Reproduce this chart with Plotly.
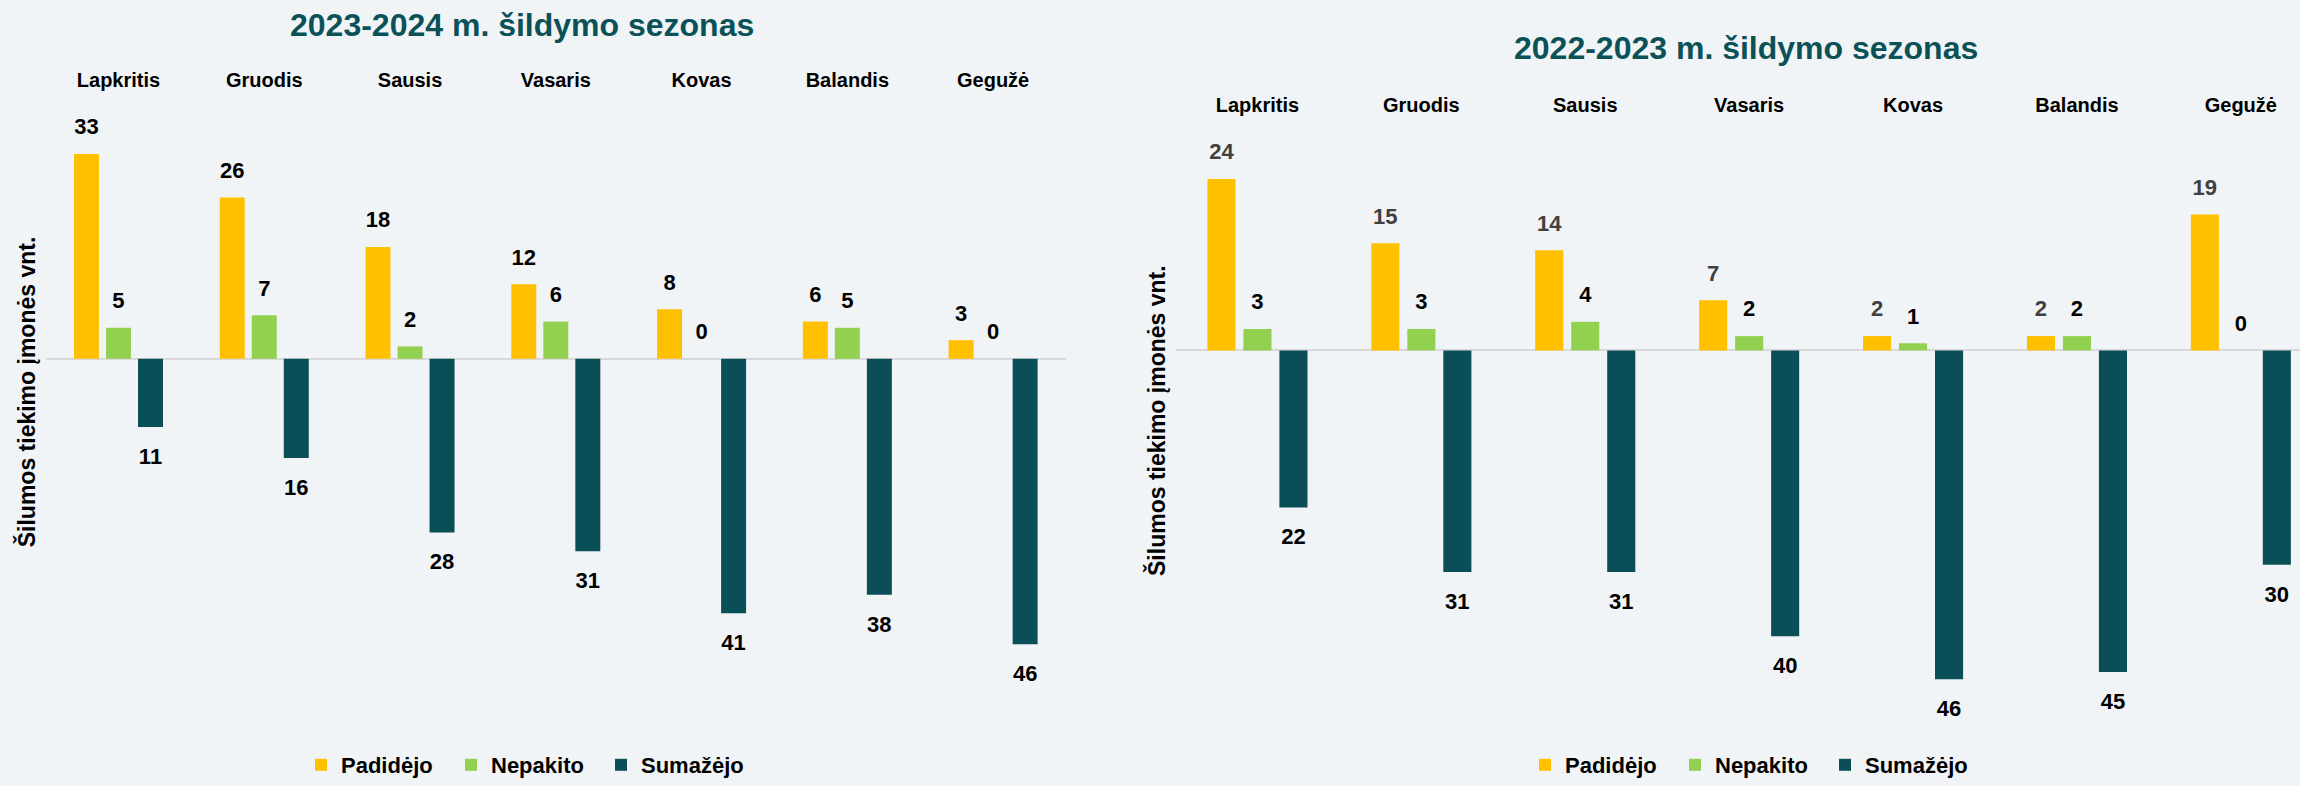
import plotly.graph_objects as go

# ---------------- data ----------------
months = ["Lapkritis", "Gruodis", "Sausis", "Vasaris", "Kovas", "Balandis", "Gegužė"]
series_names = ["Padidėjo", "Nepakito", "Sumažėjo"]

inc_2324 = [33, 26, 18, 12, 8, 6, 3]
same_2324 = [5, 7, 2, 6, 0, 5, 0]
dec_2324 = [11, 16, 28, 31, 41, 38, 46]

inc_2223 = [24, 15, 14, 7, 2, 2, 19]
same_2223 = [3, 3, 4, 2, 1, 2, 0]
dec_2223 = [22, 31, 31, 40, 46, 45, 30]

title_2324 = "2023-2024 m. šildymo sezonas"
title_2223 = "2022-2023 m. šildymo sezonas"
y_title = "Šilumos tiekimo įmonės vnt."

# ---------------- style ----------------
W, H = 2300, 786
BG = "#F0F4F7"
COLORS = ["#FFC000", "#92D050", "#0A4F57"]
TITLE_COLOR = "#0B5158"
FONT = "Liberation Sans"
GAP = 0.341
GROUPGAP = 0.22


def px(x):
    return x / W


def py(y):
    return 1 - y / H


fig = go.Figure()

panels = [
    dict(xa="x", ya="y", leg="legend", data=[inc_2324, same_2324, dec_2324],
         lab_colors=["#000000", "#000000", "#000000"]),
    dict(xa="x2", ya="y2", leg="legend2", data=[inc_2223, same_2223, dec_2223],
         lab_colors=["#404040", "#000000", "#000000"]),
]

groups = ["g_inc", "g_same", "g_dec"]
for p in panels:
    for i, (name, vals) in enumerate(zip(series_names, p["data"])):
        sign = -1 if i == 2 else 1
        yv = [sign * v for v in vals]
        fig.add_trace(go.Bar(
            x=months, y=yv, name=name, marker_color=COLORS[i],
            marker_line_width=0, xaxis=p["xa"], yaxis=p["ya"],
            legend=p["leg"], offsetgroup=groups[i], hoverinfo="skip",
        ))
    for i, vals in enumerate(p["data"]):
        sign = -1 if i == 2 else 1
        yv = [sign * v for v in vals]
        fig.add_trace(go.Scatter(
            x=months, y=yv, mode="markers+text", text=[str(v) for v in vals],
            textposition="bottom center" if sign < 0 else "top center",
            marker=dict(size=31 if sign < 0 else 21, color="rgba(0,0,0,0)"),
            textfont=dict(family=FONT, size=22, color=p["lab_colors"][i], weight="bold"),
            xaxis=p["xa"], yaxis=p["ya"], showlegend=False, cliponaxis=False,
            offsetgroup=groups[i], hoverinfo="skip",
        ))

# axis geometry (pixels)
L_x0, L_x1 = 45.6, 1066
L_zero, L_scale = 362.5, 6.27
L_top, L_bot = 120, 672
R_x0, R_x1 = 1175.5, 2300
R_step = 163.9
R_zero, R_scale = 354, 7.22
R_top, R_bot = 130, 720

tickfont = dict(family=FONT, size=20, color="#000000", weight="bold")
ytitlefont = dict(family=FONT, size=23, color="#000000", weight="bold")
legfont = dict(family=FONT, size=22, color="#000000", weight="bold")

fig.update_layout(
    width=W, height=H, autosize=False,
    template="none",
    paper_bgcolor=BG, plot_bgcolor=BG,
    margin=dict(l=0, r=0, t=0, b=0),
    barmode="group", bargap=GAP, bargroupgap=GROUPGAP,
    scattermode="group", scattergap=GAP,
    showlegend=True,
    xaxis=dict(domain=[px(L_x0), px(L_x1)], anchor="free", position=py(92),
               side="top", showline=False, showgrid=False, zeroline=False,
               ticks="", tickfont=tickfont, range=[-0.5, 6.5], fixedrange=True),
    yaxis=dict(domain=[py(L_bot), py(L_top)], anchor="x",
               range=[-(L_bot - L_zero) / L_scale, (L_zero - L_top) / L_scale],
               showgrid=False, showticklabels=False, ticks="", showline=False,
               zeroline=True, zerolinecolor="#D9D9D9", zerolinewidth=2,
               title=dict(text=y_title, font=ytitlefont, standoff=2)),
    xaxis2=dict(domain=[px(R_x0), px(R_x1)], anchor="free", position=py(117),
                side="top", showline=False, showgrid=False, zeroline=False,
                ticks="", tickfont=tickfont,
                range=[-0.5, -0.5 + (R_x1 - R_x0) / R_step], fixedrange=True),
    yaxis2=dict(domain=[py(R_bot), py(R_top)], anchor="x2",
                range=[-(R_bot - R_zero) / R_scale, (R_zero - R_top) / R_scale],
                showgrid=False, showticklabels=False, ticks="", showline=False,
                zeroline=True, zerolinecolor="#D9D9D9", zerolinewidth=2,
                title=dict(text=y_title, font=ytitlefont, standoff=2)),
    legend=dict(orientation="h", x=px(526), xanchor="center", y=py(773), yanchor="middle",
                font=legfont, bgcolor="rgba(0,0,0,0)", itemclick=False,
                entrywidth=105, entrywidthmode="pixels"),
    legend2=dict(orientation="h", x=px(1750), xanchor="center", y=py(773), yanchor="middle",
                 font=legfont, bgcolor="rgba(0,0,0,0)", itemclick=False,
                 entrywidth=105, entrywidthmode="pixels"),
    annotations=[
        dict(text=title_2324, xref="paper", yref="paper", x=px(522), y=py(25),
             xanchor="center", yanchor="middle", showarrow=False,
             font=dict(family=FONT, size=32, color=TITLE_COLOR, weight="bold")),
        dict(text=title_2223, xref="paper", yref="paper", x=px(1746), y=py(48),
             xanchor="center", yanchor="middle", showarrow=False,
             font=dict(family=FONT, size=32, color=TITLE_COLOR, weight="bold")),
    ],
)

fig.write_html(
    "out.html",
    config={"displayModeBar": False},
    post_script="document.body.style.margin='0px';"
                "document.body.style.background='" + BG + "';",
)
